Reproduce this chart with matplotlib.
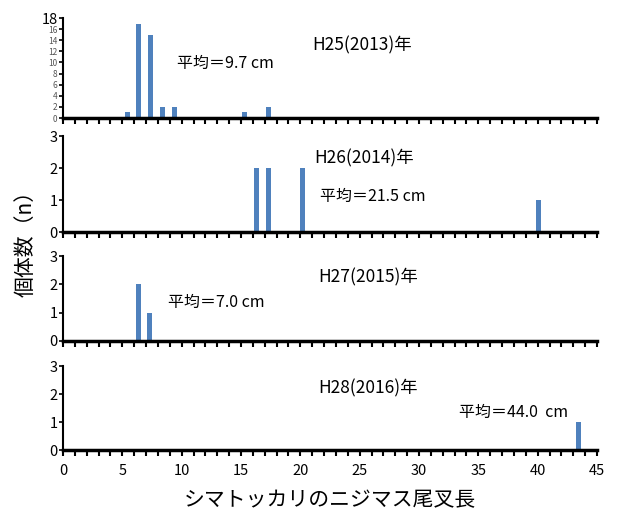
import matplotlib
matplotlib.use("Agg")
import matplotlib.pyplot as plt
from matplotlib.ticker import MultipleLocator

plt.rcParams['font.family'] = ['Noto Sans CJK JP', 'DejaVu Sans']

# Data
x_2013 = [5.4, 6.4, 7.4, 8.4, 9.4, 15.3, 17.3]
n_2013 = [1, 17, 15, 2, 2, 1, 2]
x_2014 = [16.3, 17.3, 20.2, 40.1]
n_2014 = [2, 2, 2, 1]
x_2015 = [6.4, 7.3]
n_2015 = [2, 1]
x_2016 = [43.4]
n_2016 = [1]

titles = ["H25(2013)年", "H26(2014)年", "H27(2015)年", "H28(2016)年"]
means = ["平均＝9.7 cm", "平均＝21.5 cm", "平均＝7.0 cm", "平均＝44.0  cm"]
xlabel = "シマトッカリのニジマス尾叉長"
ylabel = "個体数（n）"

bar_color = "#4F81BD"
W, H = 622, 522
fig = plt.figure(figsize=(W / 100, H / 100), dpi=100)

def rect(top, bottom, left=63, right=597):
    return [left / W, (H - bottom) / H, (right - left) / W, (bottom - top) / H]

panels = [
    (rect(18, 118), x_2013, n_2013, 18, titles[0], (312, 45), means[0], (177, 63)),
    (rect(136, 232), x_2014, n_2014, 3, titles[1], (314, 158), means[1], (320, 196)),
    (rect(256, 341), x_2015, n_2015, 3, titles[2], (318, 277), means[2], (168, 302)),
    (rect(366, 450), x_2016, n_2016, 3, titles[3], (318, 388), means[3], (459, 412)),
]

for i, (r, xs, ns, ymax, title, tpos, mtxt, mpos) in enumerate(panels):
    ax = fig.add_axes(r)
    ax.bar(xs, ns, width=0.42, color=bar_color, zorder=2)
    ax.set_xlim(0, 45)
    ax.set_ylim(0, ymax)
    for s in ("top", "right"):
        ax.spines[s].set_visible(False)
    ax.spines["bottom"].set_linewidth(2.5)
    ax.spines["left"].set_linewidth(1.5)
    ax.xaxis.set_major_locator(MultipleLocator(5))
    ax.xaxis.set_minor_locator(MultipleLocator(1))
    ax.tick_params(axis="x", which="both", direction="out", length=4, width=1.5, colors="black")
    ax.tick_params(axis="y", which="major", direction="out", length=3, width=1.2, pad=1)
    if i < 3:
        ax.tick_params(axis="x", which="major", labelbottom=False)
    else:
        ax.tick_params(axis="x", labelsize=10.5, pad=6)
    if i == 0:
        ticks = list(range(0, 19, 2))
        ax.set_yticks(ticks)
        ax.set_yticklabels([str(t) for t in ticks])
        for lab, t in zip(ax.get_yticklabels(), ticks):
            if t == 18:
                lab.set_fontsize(10.5)
                lab.set_color("black")
            else:
                lab.set_fontsize(6)
                lab.set_color("#555555")
    else:
        ax.set_yticks([0, 1, 2, 3])
        ax.tick_params(axis="y", labelsize=10.5)
    fig.text(tpos[0] / W, 1 - tpos[1] / H, title, fontsize=12.5, va="center", ha="left")
    fig.text(mpos[0] / W, 1 - mpos[1] / H, mtxt, fontsize=11.5, va="center", ha="left")

fig.text(330 / W, 1 - 500 / H, xlabel, fontsize=15, ha="center", va="center")
fig.text(26 / W, 1 - 238 / H, ylabel, fontsize=15, ha="center", va="center", rotation=90)

fig.savefig("out.png", dpi=100, facecolor="white")
